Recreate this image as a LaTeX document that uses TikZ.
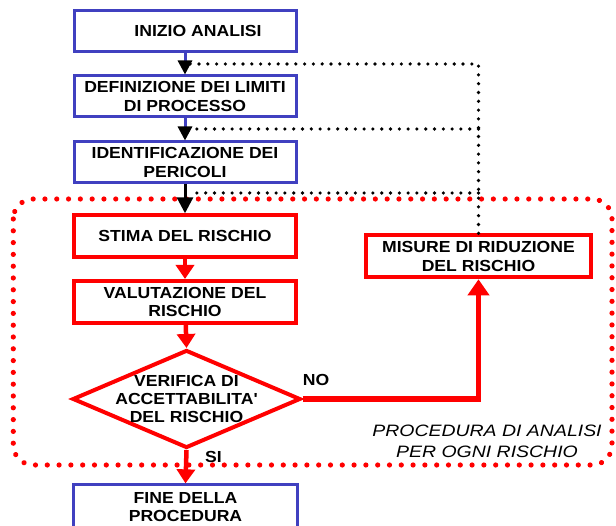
\documentclass[tikz,border=0pt]{standalone}
\usepackage{fontspec}
\newfontfamily\flowfont{Liberation Sans}[FakeStretch=1.1]
\newfontfamily\notefont{Liberation Sans}[FakeStretch=1.18]
\usetikzlibrary{arrows.meta,shapes.geometric,decorations.markings}
\definecolor{flowblue}{RGB}{64,64,192}
\definecolor{flowred}{RGB}{255,0,0}
\begin{document}
\begin{tikzpicture}[x=1pt,y=-1pt,
  txt/.style={font=\flowfont\bfseries\fontsize{16}{18.4}\selectfont, align=center, text=black, inner sep=0pt},
  bluebox/.style={txt, draw=flowblue, line width=3pt, minimum width=222pt, minimum height=41pt},
  redbox/.style={txt, draw=flowred, line width=4pt, minimum width=222pt, minimum height=42pt},
  decision/.style={diamond, draw=flowred, line width=4pt, minimum width=228pt, minimum height=98pt, inner sep=0pt},
  note/.style={font=\notefont\itshape\fontsize{16.5}{21}\selectfont, align=center, text=black, inner sep=0pt},
  bluelink/.style={draw=flowblue, line width=3pt, -{Triangle[length=14pt,width=14pt,color=black]}},
  blacklink/.style={draw=black, line width=3pt, -{Triangle[length=16pt,width=16pt]}},
  redlink/.style={draw=flowred, line width=4.5pt, -{Triangle[length=14pt,width=18pt]}},
  bigredlink/.style={draw=flowred, line width=5.5pt, -{Triangle[length=16pt,width=21pt]}},
  dotrow/.style n args={3}{decorate, decoration={markings,
      mark=between positions 0 and 1 step #2 with {\fill[#1] (0pt,0pt) circle[radius=#3];}}},
  blackdots/.style={dotrow={black}{8.8pt}{1.8pt}},
  reddots/.style={dotrow={flowred}{11.8pt}{2.6pt}}]
\useasboundingbox (0,0) rectangle (616,526);
\clip (0,0) rectangle (616,526);

% main flow
\node[bluebox] (start) at (185,31.2) {\hspace*{26pt}INIZIO ANALISI};
\node[bluebox] (limits) at (185,96.5) {DEFINIZIONE DEI LIMITI\\DI PROCESSO};
\node[bluebox] (hazards) at (185,162.5) {IDENTIFICAZIONE DEI\\PERICOLI};
\node[redbox] (estimate) at (185,236.3) {STIMA DEL RISCHIO};
\node[redbox] (evaluate) at (185,302) {VALUTAZIONE DEL\\RISCHIO};
\node[decision] (check) at (186.5,399) {};
\node[txt] (checktext) at (check.center) {VERIFICA DI\\ACCETTABILITA'\\DEL RISCHIO};
\node[redbox, minimum width=224.4pt] (reduce) at (478.5,256.3) {MISURE DI RIDUZIONE\\DEL RISCHIO};
\node[bluebox, minimum width=224pt, minimum height=44.3pt] (finish) at (185.5,507) {FINE DELLA\\PROCEDURA};

% branch labels and loop caption
\node[txt] (nolabel) at (316,380) {NO};
\node[txt] (silabel) at (213.5,456.7) {SI};
\node[note] (loopnote) at (487,441.5) {PROCEDURA DI ANALISI\\PER OGNI RISCHIO};

% per-risk loop boundary
\path[reddots, rounded corners=20pt] (13.3,199) rectangle (612,465);

% feedback joints on the main axis
\coordinate (j1) at (190,64);
\coordinate (j2) at (190,129);
\coordinate (j3) at (190,193);

% connectors
\draw[bluelink] (start) -- (limits);
\draw[bluelink] (limits) -- (hazards);
\draw[blacklink] (hazards) -- (estimate);
\draw[redlink] (estimate) -- (evaluate);
\draw[redlink] (evaluate) -- (check.north);
\draw[redlink] (check.south) -- (finish.north);
\draw[bigredlink] (check.east) -| (reduce.south);

% feedback from risk reduction
\path[blackdots] (reduce.north) |- (j1);
\path[blackdots] (reduce.north |- j2) -- (j2);
\path[blackdots] (reduce.north |- j3) -- (j3);
\end{tikzpicture}
\end{document}
